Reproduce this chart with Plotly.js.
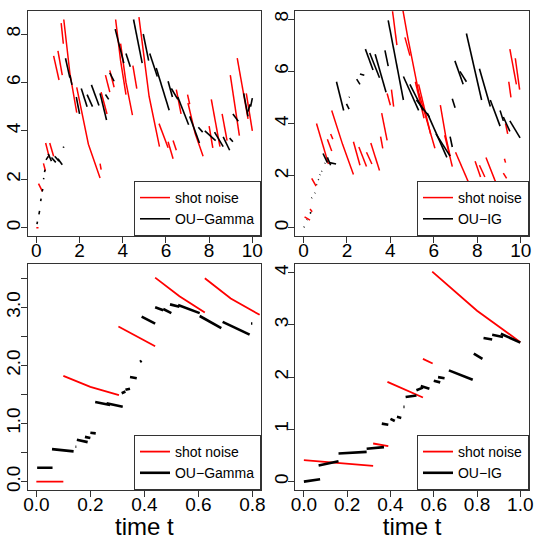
<!DOCTYPE html>
<html>
<head>
<meta charset="utf-8">
<script src="https://cdn.plot.ly/plotly-3.0.1.min.js"></script>
<style>
  body { margin: 0; background: #fff; }
  #plotDiv { width: 540px; height: 540px; }
</style>
</head>
<body>
<div id="plotDiv"></div>
<script>
// top left: shot noise vs OU-Gamma, t in [0, 10]
const tlRedX = [0, 0.1, null, 0.1, 0.28, null, 0.33, 0.42, null, 0.43, 0.6, null, 0.62, 0.8, null,
    0.8, 1.05, null, 1.0, 1.2, null, 1.15, 1.25, null, 1.27, 1.55, 1.87, null, 1.87, 2.41, 2.95, null,
    2.95, 3.0, null, 3.0, 3.27, null, 3.2, 3.4, null, 3.4, 3.6, null, 3.67, 3.9, 4.15, null,
    3.9, 4.15, 4.45, null, 4.47, 4.65, null, 4.75, 5.22, 5.7, null, 5.68, 6.1, null, 6.1, 6.33, null,
    6.33, 6.48, null, 6.48, 6.7, null, 7.0, 7.1, null, 7.02, 7.35, 7.72, null, 8.0, 8.17, null,
    8.1, 8.5, null, 8.6, 8.83, null, 8.98, 9.4, null, 9.3, 9.8, null, 9.72, 10.0]
const tlRedY = [0, 0, null, 1.82, 1.5, null, 2.66, 2.35, null, 3.5, 2.9, null, 3.5, 2.95, null,
    7.1, 6.1, null, 7.3, 6.3, null, 8.45, 7.6, null, 8.6, 6.4, 4.75, null, 5.8, 3.45, 2.05, null,
    2.65, 2.4, null, 5.6, 4.7, null, 6.3, 5.6, null, 6.5, 5.8, null, 8.6, 6.9, 5.5, null,
    7.6, 6.0, 4.65, null, 6.7, 5.75, null, 8.7, 5.43, 3.35, null, 4.3, 3.3, null, 3.55, 2.85, null,
    3.6, 3.2, null, 5.7, 4.7, null, 5.5, 5.1, null, 5.15, 3.9, 2.95, null, 4.2, 3.3, null,
    5.3, 3.35, null, 4.7, 3.6, null, 6.3, 3.8, null, 7.0, 4.5, null, 5.55, 4.0]
const tlBlackX = [0.03, 0.05, null, 0.12, 0.15, null, 0.2, 0.22, null, 0.27, 0.3, null, 0.33, 0.35, null,
    0.38, 0.4, null, 0.45, 0.55, null, 0.55, 0.7, null, 0.7, 0.9, null, 0.85, 1.05, null, 1.0, 1.2, null,
    1.25, 1.27, null, 1.35, 1.55, null, 1.55, 1.65, null, 1.85, 2.0, null, 2.08, 2.35, null,
    2.35, 2.6, null, 2.55, 2.9, null, 2.95, 3.25, null, 3.2, 3.35, null, 3.4, 3.6, null,
    3.65, 4.05, null, 4.15, 4.35, null, 4.5, 4.9, null, 4.95, 5.2, null, 5.25, 5.6, null,
    5.55, 6.15, null, 6.1, 6.3, null, 6.25, 6.55, null, 6.55, 7.05, null, 7.1, 7.55, null,
    7.5, 7.7, null, 7.8, 8.3, null, 8.25, 8.65, null, 8.65, 8.95, null, 8.95, 9.1, null,
    9.1, 9.35, null, 9.6, 9.8, null, 9.8, 9.9, null, 9.92, 10.0]
const tlBlackY = [0.15, 0.25, null, 0.55, 0.7, null, 1.1, 1.2, null, 1.5, 1.6, null, 2.0, 2.05, null,
    2.3, 2.4, null, 2.8, 2.95, null, 3.05, 2.75, null, 2.9, 2.7, null, 2.95, 2.75, null, 2.85, 2.6, null,
    3.3, 3.35, null, 7.0, 6.2, null, 6.3, 5.9, null, 5.4, 4.7, null, 5.75, 5.0, null,
    5.5, 5.0, null, 5.9, 5.05, null, 5.55, 4.45, null, 5.5, 5.3, null, 6.4, 6.05, null,
    8.2, 6.8, null, 7.2, 6.65, null, 8.6, 6.8, null, 8.0, 6.9, null, 7.2, 6.25, null,
    6.6, 4.85, null, 6.05, 5.4, null, 5.75, 5.3, null, 5.4, 4.25, null, 4.6, 3.5, null,
    4.15, 3.95, null, 4.0, 3.6, null, 3.95, 3.35, null, 3.75, 3.2, null, 3.7, 3.55, null,
    4.7, 4.4, null, 5.55, 4.6, null, 4.8, 5.1, null, 5.0, 5.35]

// top right: shot noise vs OU-IG, t in [0, 10]
const trRedX = [0.05, 0.3, null, 0.3, 0.4, null, 0.38, 0.58, null, 0.6, 1.15, null, 1.1, 1.3, null,
    1.25, 1.35, null, 1.3, 1.8, 2.3, null, 2.3, 2.6, null, 2.55, 2.9, null, 2.9, 3.15, null,
    3.1, 3.5, null, 3.55, 3.65, null, 3.6, 3.85, null, 3.85, 4.0, null, 4.05, 4.15, null,
    4.1, 4.3, null, 4.5, 4.8, 5.3, 5.8, 6.05, null, 4.67, 4.9, null, 5.15, 5.55, null,
    5.3, 5.85, null, 6.3, 6.55, 6.75, null, 6.5, 6.85, null, 7.0, 7.5, 7.8, null,
    7.9, 8.15, null, 8.1, 8.35, null, 8.4, 8.8, 9.1, null, 9.2, 9.35, null, 9.25, 9.3, null,
    9.3, 9.4, null, 9.45, 9.55, null, 9.5, 9.8, null, 9.75, 9.95]
const trRedY = [0.42, 0.3, null, 0.72, 0.62, null, 1.9, 1.6, null, 4.0, 2.45, null, 3.4, 2.95, null,
    3.6, 3.4, null, 4.5, 3.2, 2.05, null, 3.3, 2.4, null, 3.1, 2.35, null, 2.9, 2.45, null,
    3.25, 2.2, null, 3.5, 3.05, null, 4.4, 3.35, null, 5.15, 4.7, null, 5.3, 4.65, null,
    8.3, 7.0, null, 8.7, 7.3, 5.2, 3.7, 3.05, null, 7.3, 6.6, null, 5.6, 4.2, null,
    5.5, 3.6, null, 4.7, 3.5, 2.75, null, 3.55, 2.35, null, 2.9, 1.9, 1.35, null,
    2.55, 1.95, null, 2.4, 1.95, null, 2.7, 1.85, 1.3, null, 2.1, 1.9, null, 2.65, 2.5, null,
    4.0, 3.6, null, 5.6, 5.0, null, 6.85, 5.5, null, 6.5, 5.3]
const trBlackX = [0.02, 0.04, null, 0.15, 0.17, null, 0.3, 0.35, null, 0.37, 0.39, null, 0.52, 0.54, null,
    0.6, 0.62, null, 0.68, 0.7, null, 0.75, 0.77, null, 0.83, 0.85, null, 0.98, 1.0, null,
    0.9, 1.1, null, 1.1, 1.25, null, 1.2, 1.5, null, 1.52, 1.85, null, 1.98, 2.1, null,
    2.1, 2.12, null, 2.45, 2.6, null, 2.6, 2.8, null, 2.85, 3.2, null, 3.05, 3.5, null,
    3.3, 3.8, null, 3.75, 3.9, null, 3.9, 4.2, 4.6, null, 4.6, 5.3, null, 4.9, 5.5, null,
    5.2, 5.8, null, 5.7, 6.6, null, 6.1, 6.75, null, 6.75, 6.85, null, 6.85, 6.98, null,
    6.97, 7.35, null, 7.2, 7.5, null, 7.5, 8.2, null, 8.1, 8.6, null, 8.6, 9.05, null,
    9.05, 9.2, null, 9.2, 9.5, null, 9.5, 9.97]
const trBlackY = [0.02, 0.05, null, 0.3, 0.32, null, 0.55, 0.6, null, 1.14, 1.16, null, 1.33, 1.35, null,
    1.65, 1.67, null, 1.84, 1.86, null, 2.03, 2.05, null, 2.16, 2.18, null, 2.47, 2.49, null,
    2.85, 2.5, null, 2.7, 2.4, null, 2.5, 2.45, null, 5.6, 4.5, null, 4.75, 4.55, null,
    5.0, 5.02, null, 5.7, 5.5, null, 5.9, 5.85, null, 6.85, 6.05, null, 6.7, 5.75, null,
    6.65, 5.2, null, 6.8, 6.2, null, 7.95, 6.7, 4.9, null, 5.8, 4.5, null, 5.5, 4.5, null,
    4.9, 4.25, null, 4.4, 2.7, null, 3.6, 2.75, null, 3.5, 3.1, null, 4.95, 4.6, null,
    6.4, 5.5, null, 6.0, 5.6, null, 7.45, 4.9, null, 6.1, 4.65, null, 4.9, 3.9, null,
    4.5, 4.1, null, 4.25, 3.7, null, 4.1, 3.45]

// bottom left: shot noise vs OU-Gamma, t in [0, 0.8]
const blRedX = [0, 0.1, null, 0.1, 0.2, 0.306, null, 0.304, 0.44, null, 0.44, 0.53, 0.624, null,
    0.624, 0.72, 0.827]
const blRedY = [0, 0, null, 1.82, 1.63, 1.49, null, 2.67, 2.33, null, 3.51, 3.19, 2.91, null,
    3.5, 3.15, 2.87]
const blBlackX = [0.003, 0.06, null, 0.058, 0.138, null, 0.145, 0.148, null, 0.15, 0.19, null,
    0.18, 0.2, null, 0.2, 0.22, null, 0.218, 0.273, null, 0.26, 0.32, null, 0.316, 0.33, null,
    0.33, 0.347, null, 0.347, 0.372, null, 0.384, 0.39, null, 0.39, 0.44, null, 0.44, 0.47, null,
    0.47, 0.5, null, 0.495, 0.53, null, 0.525, 0.605, null, 0.605, 0.685, null, 0.69, 0.79, null,
    0.795, 0.8]
const blBlackY = [0.24, 0.24, null, 0.56, 0.52, null, 0.6, 0.6, null, 0.72, 0.68, null,
    0.77, 0.75, null, 0.84, 0.83, null, 1.37, 1.32, null, 1.35, 1.29, null, 1.52, 1.55, null,
    1.58, 1.6, null, 1.8, 1.78, null, 2.06, 2.08, null, 2.84, 2.72, null, 3.0, 2.95, null,
    2.97, 2.9, null, 3.05, 3.01, null, 3.04, 2.9, null, 2.85, 2.64, null, 2.75, 2.53, null,
    2.72, 2.72]

// bottom right: shot noise vs OU-IG, t in [0, 1]
const brRedX = [0, 0.32, null, 0.32, 0.39, null, 0.386, 0.55, null, 0.55, 0.595, null,
    0.593, 0.8, 1.0]
const brRedY = [0.41, 0.3, null, 0.73, 0.68, null, 1.91, 1.61, null, 2.35, 2.26, null,
    4.02, 3.27, 2.67]
const brBlackX = [0, 0.075, null, 0.068, 0.16, null, 0.16, 0.29, null, 0.29, 0.37, null,
    0.36, 0.39, null, 0.4, 0.42, null, 0.43, 0.45, null, 0.46, 0.465, null, 0.47, 0.52, null,
    0.52, 0.55, null, 0.54, 0.58, null, 0.6, 0.63, null, 0.62, 0.65, null, 0.67, 0.78, null,
    0.785, 0.825, null, 0.83, 0.87, null, 0.87, 0.92, null, 0.91, 1.0]
const brBlackY = [0, 0.045, null, 0.31, 0.39, null, 0.54, 0.57, null, 0.63, 0.66, null,
    1.11, 1.09, null, 1.2, 1.16, null, 1.24, 1.22, null, 1.43, 1.43, null, 1.62, 1.65, null,
    1.75, 1.8, null, 1.83, 1.78, null, 1.93, 1.9, null, 2.0, 1.98, null, 2.13, 1.95, null,
    2.45, 2.35, null, 2.75, 2.72, null, 2.81, 2.77, null, 2.83, 2.66]

const blackLabels = ["OU\u2212Gamma", "OU\u2212IG", "OU\u2212Gamma", "OU\u2212IG"]

const fontFamily = "Liberation Sans, Arial, sans-serif"

function makePair(rx, ry, bx, by, idx, redWidth, blackWidth) {
    // one red shot noise trace and one black OU trace for a panel
    let suffix = idx === 1 ? "" : String(idx)
    let red = {
        type: 'scatter', mode: 'lines', x: rx, y: ry,
        xaxis: 'x' + suffix, yaxis: 'y' + suffix,
        name: 'shot noise', legend: 'legend' + suffix,
        line: {color: '#ff0000', width: redWidth}
    }
    let black = {
        type: 'scatter', mode: 'lines', x: bx, y: by,
        xaxis: 'x' + suffix, yaxis: 'y' + suffix,
        name: blackLabels[idx - 1], legend: 'legend' + suffix,
        line: {color: '#000000', width: blackWidth}
    }
    return [red, black]
}

let plotData = [].concat(
    makePair(tlRedX, tlRedY, tlBlackX, tlBlackY, 1, 1.5, 1.6),
    makePair(trRedX, trRedY, trBlackX, trBlackY, 2, 1.5, 1.6),
    makePair(blRedX, blRedY, blBlackX, blBlackY, 3, 1.8, 2.6),
    makePair(brRedX, brRedY, brBlackX, brBlackY, 4, 1.8, 2.6)
)

function axis(domain, range, anchor, extra) {
    let a = {
        domain: domain, range: range, anchor: anchor,
        showline: true, mirror: true, linecolor: '#333', linewidth: 1,
        ticks: 'outside', ticklen: 6, tickcolor: '#333',
        showgrid: false, zeroline: false, automargin: false,
        tickfont: {family: fontFamily, size: 19, color: '#000'}
    }
    return Object.assign(a, extra)
}

function legendAt(x, y) {
    return {
        x: x, y: y, xanchor: 'right', yanchor: 'bottom',
        bordercolor: '#333', borderwidth: 1, bgcolor: '#fff',
        font: {family: fontFamily, size: 14, color: '#000'},
        tracegroupgap: 0
    }
}

const leftDom = [0.0513, 0.4833]
const rightDom = [0.5467, 0.9796]
const topDom = [0.563, 0.9796]
const botDom = [0.0926, 0.5106]
const timeTitle = {text: 'time t', font: {family: fontFamily, size: 24, color: '#000'}, standoff: 3}

// x labels sit close under the ticks, y labels are turned along the axis
const xTickExtra = {ticklabelstandoff: -9}
const yTickExtra = {tickangle: -90, ticklabelstandoff: -7}

let layout = {
    width: 540, height: 540,
    margin: {l: 0, r: 0, t: 0, b: 0},
    paper_bgcolor: '#fff', plot_bgcolor: '#fff',
    font: {family: fontFamily, color: '#000'},
    xaxis: axis(leftDom, [-0.4, 10.4], 'y', Object.assign({tickvals: [0, 2, 4, 6, 8, 10]}, xTickExtra)),
    yaxis: axis(topDom, [-0.34, 8.95], 'x', Object.assign({tickvals: [0, 2, 4, 6, 8]}, yTickExtra)),
    xaxis2: axis(rightDom, [-0.38, 10.38], 'y2', Object.assign({tickvals: [0, 2, 4, 6, 8, 10]}, xTickExtra)),
    yaxis2: axis(topDom, [-0.31, 8.31], 'x2', Object.assign({tickvals: [0, 2, 4, 6, 8]}, yTickExtra)),
    xaxis3: axis(leftDom, [-0.032, 0.832], 'y3', Object.assign({
        tickvals: [0, 0.2, 0.4, 0.6, 0.8], ticktext: ['0.0', '0.2', '0.4', '0.6', '0.8'],
        title: timeTitle}, xTickExtra)),
    yaxis3: axis(botDom, [-0.144, 3.74], 'x3', Object.assign({
        tickvals: [0, 0.5, 1, 1.5, 2, 2.5, 3, 3.5],
        ticktext: ['0.0', '', '1.0', '', '2.0', '', '3.0', '']}, yTickExtra)),
    xaxis4: axis(rightDom, [-0.04, 1.04], 'y4', Object.assign({
        tickvals: [0, 0.2, 0.4, 0.6, 0.8, 1], ticktext: ['0.0', '0.2', '0.4', '0.6', '0.8', '1.0'],
        title: timeTitle}, xTickExtra)),
    yaxis4: axis(botDom, [-0.16, 4.16], 'x4', Object.assign({tickvals: [0, 1, 2, 3, 4]}, yTickExtra)),
    legend: legendAt(leftDom[1], topDom[0]),
    legend2: legendAt(rightDom[1], topDom[0]),
    legend3: legendAt(leftDom[1], botDom[0]),
    legend4: legendAt(rightDom[1], botDom[0]),
    showlegend: true
}

let config = {staticPlot: true}

Plotly.newPlot('plotDiv', plotData, layout, config)
</script>
</body>
</html>
